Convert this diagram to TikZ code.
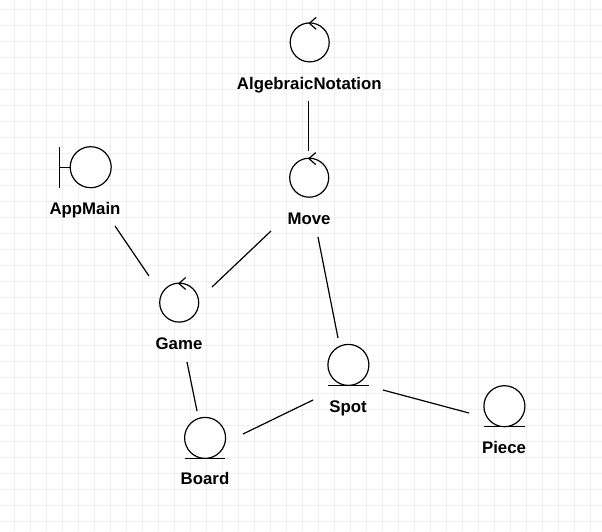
\documentclass[tikz,border=0pt]{standalone}
\usepackage{fontspec}
\setmainfont{Liberation Sans}
\definecolor{gridc}{HTML}{EEEEEE}
\definecolor{inkc}{HTML}{000000}
\tikzset{
  icon/.style={circle,draw=inkc,line width=1.2pt,fill=white,inner sep=0pt,minimum size=#1},
  lbl/.style={font=\fontsize{16.8}{20}\selectfont\bfseries,text=inkc,inner sep=0pt,anchor=base},
  conn/.style={draw=inkc,line width=1.2pt},
  glyphline/.style={draw=inkc,line width=1.2pt},
  underline/.style={draw=inkc,line width=0.9pt},
  gridline/.style={draw=gridc,line width=1pt}
}
\begin{document}
\begin{tikzpicture}[x=1pt,y=-1pt]
\useasboundingbox (0,0) rectangle (602,531);
\fill[white] (0,0) rectangle (602,531);
\foreach \i in {0,...,36} {\draw[gridline] ({14.4+16*\i},0) -- ({14.4+16*\i},531);}
\foreach \i in {0,...,32} {\draw[gridline] (0,{9+16*\i}) -- (602,{9+16*\i});}

\node[icon=39pt] (alg) at (309.7,42.4) {};
\node[icon=39pt] (move) at (309.2,177.7) {};
\node[icon=39pt] (game) at (179.2,302.6) {};
\node[icon=41pt] (app) at (90.7,167.2) {};
\node[icon=41pt] (spot) at (348.4,364.9) {};
\node[icon=41pt] (board) at (205.1,437.9) {};
\node[icon=41pt] (piece) at (504.4,406.2) {};

\node[lbl] (algl) at (309.3,89) {AlgebraicNotation};
\node[lbl] (movel) at (309,224) {Move};
\node[lbl] (gamel) at (179,349) {Game};
\node[lbl] (appl) at (85,214) {AppMain};
\node[lbl] (spotl) at (348,412) {Spot};
\node[lbl] (boardl) at (205,484) {Board};
\node[lbl] (piecel) at (504,453) {Piece};

% control arrowheads
\foreach \n in {alg,move,game}
  \draw[glyphline] ([shift={(6.5,-25.1)}]\n.center) -- ([shift={(-0.3,-19.1)}]\n.center) -- ([shift={(6.5,-13.1)}]\n.center);
% boundary bar
\draw[glyphline] ([shift={(-30.9,-20.5)}]app.center) -- ([shift={(-30.9,20.5)}]app.center);
\draw[glyphline] ([shift={(-30.9,0)}]app.center) -- (app.west);
% entity underlines
\foreach \n in {spot,board,piece}
  \draw[underline] ([shift={(-20.3,20.3)}]\n.center) -- ([shift={(20.3,20.3)}]\n.center);

% connectors
\draw[conn] ([shift={(-0.8,12)}]algl.base) -- ([shift={(-0.7,-26.7)}]move.center);
\draw[conn] ([shift={(30,12)}]appl.base) -- ([shift={(-30.2,-26.6)}]game.center);
\draw[conn] ([shift={(-38,7)}]movel.base) -- ([shift={(32.8,-15.6)}]game.center);
\draw[conn] ([shift={(9,13)}]movel.base) -- ([shift={(-10.4,-26.9)}]spot.center);
\draw[conn] ([shift={(8,13)}]gamel.base) -- ([shift={(-8.1,-26.9)}]board.center);
\draw[conn] ([shift={(37.9,-3.9)}]board.center) -- ([shift={(-35,-12)}]spotl.base);
\draw[conn] ([shift={(35,-22)}]spotl.base) -- ([shift={(-35.4,6.8)}]piece.center);
\end{tikzpicture}
\end{document}
